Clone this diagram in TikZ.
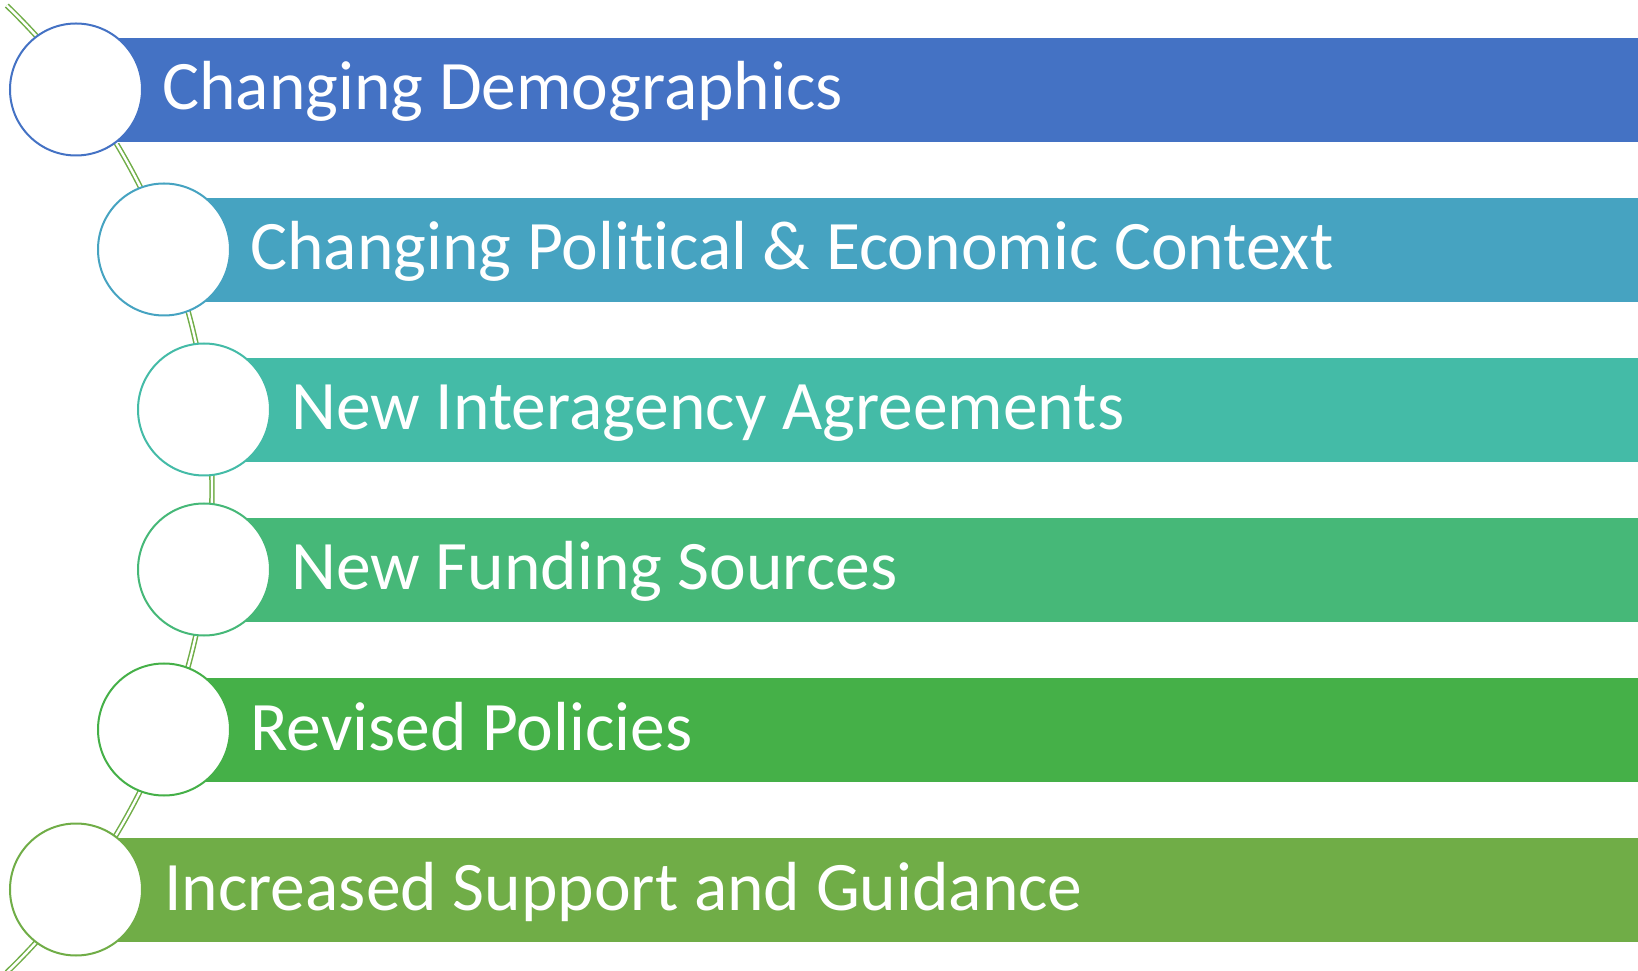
\documentclass[tikz,border=0pt]{standalone}
\usepackage{fontspec}
\setmainfont[RawFeature=-liga]{Carlito}
\definecolor{cA}{HTML}{4472C4}
\definecolor{cB}{HTML}{46A3C1}
\definecolor{cC}{HTML}{44BBA7}
\definecolor{cD}{HTML}{46B878}
\definecolor{cE}{HTML}{45B048}
\definecolor{cF}{HTML}{70AD47}
\tikzset{
  bar/.style={draw=white, line width=0.6pt, minimum height=105pt, inner sep=0pt, anchor=west},
  disc/.style={circle, fill=white, line width=2pt, minimum size=132pt, inner sep=0pt},
  label/.style={text=white, font=\fontsize{69.5}{76}\selectfont, anchor=base west, inner sep=0pt},
  link/.style={draw=cF, line width=1.5pt, double=white, double distance=2.4pt}
}
\begin{document}
\begin{tikzpicture}[x=1pt,y=1pt]
\useasboundingbox (0,0) rectangle (1638,970);
\coordinate (arccenter) at (-460,481);
\draw[link] (arccenter) ++(46:672) arc[start angle=46, end angle=-46, radius=672];
% rows
\foreach \i/\cx/\tx/\col/\txt in {
  0/76/162/cA/Changing Demographics,
  1/164/250/cB/Changing Political \& Economic Context,
  2/204/291/cC/New Interagency Agreements,
  3/204/291/cD/New Funding Sources,
  4/164/250/cE/Revised Policies,
  5/76/164/cF/Increased Support and Guidance}{
  \pgfmathsetmacro{\yc}{970-89.5-160*\i}
  \node[bar, fill=\col, minimum width={1638-\cx}] (b\i) at (\cx,\yc) {};
  \node[disc, draw=\col] (c\i) at (\cx,\yc) {};
  \node[label] (t\i) at (\tx,\yc-20.5) {\txt};
}
\end{tikzpicture}
\end{document}
